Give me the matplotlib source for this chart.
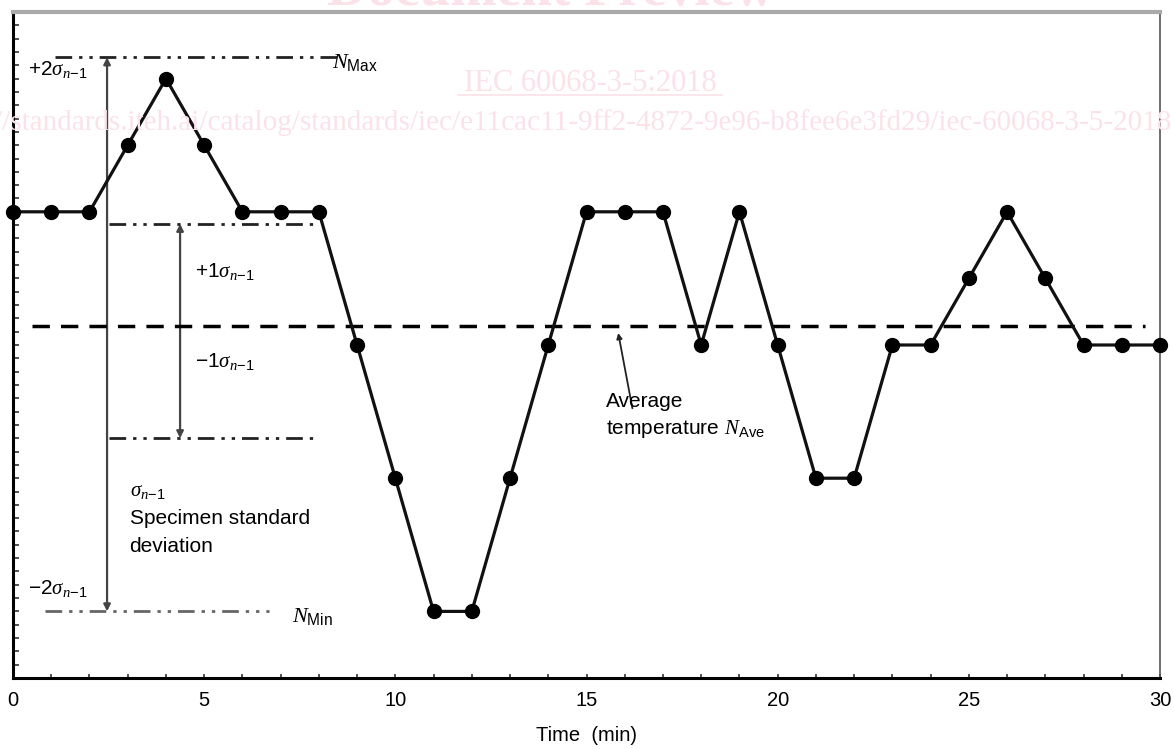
import numpy as np
import matplotlib
matplotlib.use("Agg")
import matplotlib.pyplot as plt

plt.rcParams['font.family'] = ['Liberation Sans', 'DejaVu Sans']
plt.rcParams['mathtext.fontset'] = 'custom'
plt.rcParams['mathtext.rm'] = 'Liberation Sans'
plt.rcParams['mathtext.it'] = 'Liberation Serif:italic'
plt.rcParams['mathtext.bf'] = 'Liberation Sans:bold'

# temperature readings, one per minute
minutes = list(range(31))
temps = [7, 7, 7, 8, 9, 8, 7, 7, 7, 5, 3, 1, 1, 3, 5, 7, 7, 7,
         5, 7, 5, 3, 3, 5, 5, 6, 7, 6, 5, 5, 5]

n_ave = 5.28
n_max = 9.32
n_min = 1.0
plus1 = 6.82
minus1 = 3.6
xticks = [0, 5, 10, 15, 20, 25, 30]

fig = plt.figure(figsize=(11.74, 7.49), dpi=100)
ax = fig.add_axes([13 / 1174, 71 / 749, 1147 / 1174, 666 / 749])

# watermark of the source document
pink = '#fbe2e8'
fig.text(551 / 1174, 1 - 5 / 749, 'Document Preview', ha='center', va='baseline',
         fontsize=40, color=pink, family='Liberation Serif', fontweight='bold', zorder=0)
fig.text(590 / 1174, 1 - 91 / 749, 'IEC 60068-3-5:2018', ha='center', va='baseline',
         fontsize=22, color=pink, family='Liberation Serif', zorder=0)
fig.add_artist(plt.Line2D([458 / 1174, 722 / 1174], [1 - 95 / 749, 1 - 95 / 749],
                          color=pink, lw=1.2, zorder=0))
fig.text(-6 / 1174, 1 - 130 / 749,
         '//standards.iteh.ai/catalog/standards/iec/e11cac11-9ff2-4872-9e96-b8fee6e3fd29/iec-60068-3-5-2018',
         ha='left', va='baseline', fontsize=21, color=pink, family='Liberation Serif', zorder=0)

ax.set_facecolor('none')
ax.plot(minutes, temps, color='#111111', lw=2.3, marker='o', markersize=10,
        markerfacecolor='black', markeredgecolor='black', clip_on=False, zorder=5)

# average line
ax.plot([0.5, 29.6], [n_ave, n_ave], color='black', lw=2.5,
        linestyle=(0, (5, 3.2)), zorder=4)

dd = (0, (6, 2.5, 1.2, 2.5, 1.2, 2.5))
ax.plot([1.1, 8.55], [n_max, n_max], color='#222222', lw=2, linestyle=dd)
ax.plot([0.85, 6.7], [n_min, n_min], color='#666666', lw=2, linestyle=dd)
ax.plot([2.5, 8.0], [plus1, plus1], color='#222222', lw=2, linestyle=dd)
ax.plot([2.5, 8.0], [minus1, minus1], color='#222222', lw=2, linestyle=dd)

arrow = dict(arrowstyle='<|-|>', color='#444444', lw=1.6,
             mutation_scale=10, shrinkA=0, shrinkB=0)
ax.annotate('', xy=(2.46, n_max), xytext=(2.46, n_min), arrowprops=arrow)
ax.annotate('', xy=(4.37, plus1), xytext=(4.37, minus1), arrowprops=arrow)
ax.annotate('', xy=(15.83, n_ave - 0.1), xytext=(16.2, 4.05),
            arrowprops=dict(arrowstyle='-|>', color='#222222', lw=1.3,
                            mutation_scale=8, shrinkA=0, shrinkB=0))

fs = 15
ax.text(0.38, 9.13, r'$+2\mathit{\sigma}_{n\!-\!1}$', fontsize=fs, ha='left', va='center')
ax.text(8.35, n_max - 0.08, r'$\mathit{N}_{\mathrm{Max}}$', fontsize=fs + 1, ha='left', va='center')
ax.text(4.75, 6.1, r'$+1\mathit{\sigma}_{n\!-\!1}$', fontsize=fs, ha='left', va='center')
ax.text(4.75, 4.75, r'$-1\mathit{\sigma}_{n\!-\!1}$', fontsize=fs, ha='left', va='center')
ax.text(3.05, 2.8, r'$\mathit{\sigma}_{n\!-\!1}$', fontsize=fs, ha='left', va='center')
ax.text(3.05, 2.4, 'Specimen standard', fontsize=fs, ha='left', va='center')
ax.text(3.05, 1.98, 'deviation', fontsize=fs, ha='left', va='center')
ax.text(0.38, 1.35, r'$-2\mathit{\sigma}_{n\!-\!1}$', fontsize=fs, ha='left', va='center')
ax.text(7.3, 0.93, r'$\mathit{N}_{\mathrm{Min}}$', fontsize=fs + 1, ha='left', va='center')
ax.text(15.5, 4.15, 'Average', fontsize=fs, ha='left', va='center')
ax.text(15.5, 3.74, r'temperature $\mathit{N}_{\mathrm{Ave}}$', fontsize=fs, ha='left', va='center')

ax.set_xlim(0, 30)
ax.set_ylim(0, 10)
ax.set_xticks(xticks)
ax.set_xticklabels([str(t) for t in xticks], fontsize=14.5)
ax.set_xticks(range(31), minor=True)
ax.set_yticks([])
ax.set_yticks(np.arange(0, 10.01, 0.2), minor=True)
ax.tick_params(axis='x', which='both', direction='in', length=3, width=1.2,
               color='#333333', pad=9)
ax.tick_params(axis='y', which='minor', direction='in', length=4, width=1.2, color='#333333')
ax.set_xlabel('Time  (min)', fontsize=14.5, labelpad=12)

ax.spines['left'].set_linewidth(2.2)
ax.spines['bottom'].set_linewidth(2.2)
ax.spines['top'].set_color('#aaaaaa')
ax.spines['top'].set_linewidth(3)
ax.spines['right'].set_color('#555555')
ax.spines['right'].set_linewidth(1.2)

fig.savefig('out.png', dpi=100)
